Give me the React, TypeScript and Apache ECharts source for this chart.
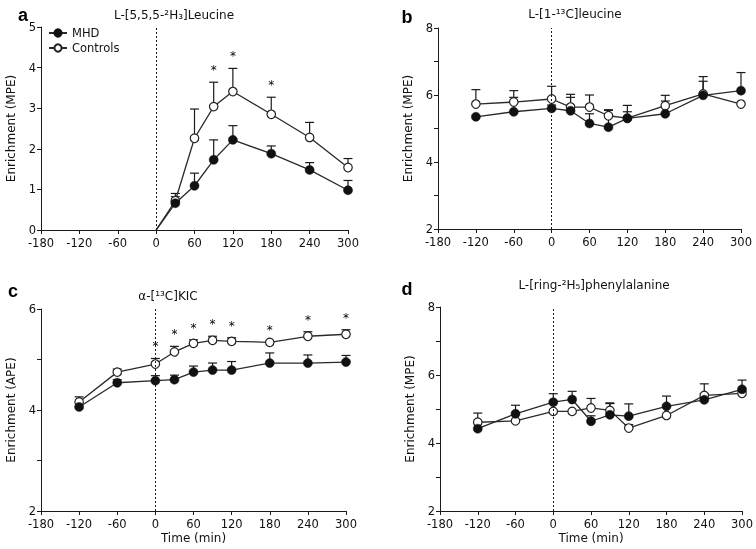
import React, { useEffect, useRef } from "react";
import * as echarts from "echarts";

// ---------- data ----------
const timesA = [0, 30, 60, 90, 120, 180, 240, 300];
const mhdA = [0, 0.66, 1.09, 1.73, 2.22, 1.88, 1.48, 0.98];
const mhdAErr = [null, 0.82, 1.4, 2.22, 2.57, 2.07, 1.66, 1.22];
const ctrlA = [0, 0.72, 2.26, 3.04, 3.41, 2.85, 2.28, 1.54];
const ctrlAErr = [null, 0.9, 2.98, 3.64, 3.98, 3.27, 2.65, 1.76];
const sigA = [90, 120, 180];

const timesBCD = [-120, -60, 0, 30, 60, 90, 120, 180, 240, 300];

const mhdB = [5.35, 5.5, 5.6, 5.53, 5.15, 5.04, 5.3, 5.44, 5.99, 6.13];
const mhdBErr = [null, 5.93, 5.7, 5.93, 5.44, 5.54, 5.5, 5.82, 6.41, 6.67];
const ctrlB = [5.73, 5.79, 5.88, 5.64, 5.64, 5.38, 5.31, 5.68, 6.03, 5.73];
const ctrlBErr = [6.16, 6.13, 6.26, 6.02, 6.0, 5.56, 5.69, 5.99, 6.55, null];
const sigB: number[] = [];

const mhdC = [4.06, 4.54, 4.58, 4.6, 4.75, 4.79, 4.79, 4.93, 4.93, 4.95];
const mhdCErr = [null, 4.6, 4.68, 4.69, 4.87, 4.93, 4.96, 5.13, 5.09, 5.08];
const ctrlC = [4.16, 4.75, 4.91, 5.15, 5.32, 5.38, 5.36, 5.34, 5.46, 5.5];
const ctrlCErr = [4.26, 4.81, 5.02, 5.26, 5.39, 5.46, 5.43, null, 5.55, 5.59];
const sigC = [0, 30, 60, 90, 120, 180, 240, 300];

const mhdD = [4.42, 4.86, 5.2, 5.28, 4.64, 4.83, 4.79, 5.08, 5.27, 5.58];
const mhdDErr = [null, 5.11, 5.45, 5.52, 4.8, 5.16, 5.15, 5.38, 5.45, 5.85];
const ctrlD = [4.61, 4.65, 4.93, 4.93, 5.03, 4.96, 4.44, 4.81, 5.4, 5.46];
const ctrlDErr = [4.88, null, null, null, 5.31, 5.18, 4.54, null, 5.74, 5.52];
const sigD: number[] = [];

const xTicks = { min: -180, max: 300, interval: 60 };

const panelTitles = [
  "L-[5,5,5-²H₃]Leucine",
  "L-[1-¹³C]leucine",
  "α-[¹³C]KIC",
  "L-[ring-²H₅]phenylalanine",
];
const panelLetters = ["a", "b", "c", "d"];
const yNames = ["Enrichment (MPE)", "Enrichment (MPE)", "Enrichment (APE)", "Enrichment (MPE)"];
const yRanges = [
  { min: 0, max: 5, interval: 1, minor: false },
  { min: 2, max: 8, interval: 2, minor: true },
  { min: 2, max: 6, interval: 2, minor: true },
  { min: 2, max: 8, interval: 2, minor: true },
];
const xName = ["", "", "Time (min)", "Time (min)"];

// ---------- layout / style ----------
const FONT = "DejaVu Sans";
const INK = "#111";
const grids = [
  { left: 41, top: 27, width: 307, height: 203 },
  { left: 438, top: 28, width: 303, height: 201 },
  { left: 41, top: 309, width: 305, height: 202 },
  { left: 440, top: 307, width: 308, height: 204 },
];
const titlePos = [
  [174, 15],
  [575, 14],
  [168, 296],
  [594, 285],
];
const letterPos = [
  [23, 15],
  [407, 17],
  [13, 291],
  [407, 289],
];

function errSeries(idx: number, times: number[], vals: number[], errs: (number | null)[]) {
  const data = times
    .map((t, i) => [t, vals[i], errs[i]])
    .filter((d) => d[2] !== null && d[2] !== undefined);
  return {
    type: "custom",
    xAxisIndex: idx,
    yAxisIndex: idx,
    z: 1,
    silent: true,
    itemStyle: { color: INK },
    data,
    renderItem: (_p: any, api: any) => {
      const x = api.value(0);
      const p0 = api.coord([x, api.value(1)]);
      const p1 = api.coord([x, api.value(2)]);
      const st = { stroke: "#1a1a1a", lineWidth: 1.2 };
      return {
        type: "group",
        children: [
          { type: "line", shape: { x1: p0[0], y1: p0[1], x2: p1[0], y2: p1[1] }, style: st },
          { type: "line", shape: { x1: p1[0] - 4.5, y1: p1[1], x2: p1[0] + 4.5, y2: p1[1] }, style: st },
        ],
      };
    },
  };
}

function starSeries(idx: number, times: number[], ctrl: number[], errs: (number | null)[], sig: number[]) {
  const data = sig.map((t) => {
    const i = times.indexOf(t);
    const top = errs[i] !== null && errs[i] !== undefined ? (errs[i] as number) : ctrl[i];
    return [t, top];
  });
  return {
    type: "custom",
    xAxisIndex: idx,
    yAxisIndex: idx,
    z: 4,
    silent: true,
    itemStyle: { color: INK },
    data,
    renderItem: (_p: any, api: any) => {
      const p = api.coord([api.value(0), api.value(1)]);
      return {
        type: "text",
        x: p[0],
        y: p[1] - 6,
        style: {
          text: "*",
          fill: "#000",
          fontFamily: FONT,
          fontSize: 12,
          align: "center",
          verticalAlign: "bottom",
          textAlign: "center",
          textVerticalAlign: "bottom",
        },
      };
    },
  };
}

function lineSeries(idx: number, name: string, times: number[], vals: number[], filled: boolean) {
  return {
    type: "line",
    name,
    xAxisIndex: idx,
    yAxisIndex: idx,
    z: filled ? 3 : 2,
    symbol: "circle",
    symbolSize: filled ? 9 : 8.5,
    showSymbol: true,
    silent: true,
    lineStyle: { color: "#2a2a2a", width: 1.3 },
    itemStyle: filled
      ? { color: "#111", borderColor: "#111", borderWidth: 0.5 }
      : { color: "#fff", borderColor: "#222", borderWidth: 1.2 },
    data: times.map((t, i) =>
      t === 0 && vals[i] === 0 ? { value: [t, vals[i]], symbol: "none" } : [t, vals[i]]
    ),
    markLine: filled
      ? {
          silent: true,
          symbol: "none",
          label: { show: false },
          lineStyle: { color: "#1a1a1a", type: [2, 2], width: 1 },
          data: [{ xAxis: 0 }],
        }
      : undefined,
  };
}

const panels = [
  { times: timesA, mhd: mhdA, mhdErr: mhdAErr, ctrl: ctrlA, ctrlErr: ctrlAErr, sig: sigA },
  { times: timesBCD, mhd: mhdB, mhdErr: mhdBErr, ctrl: ctrlB, ctrlErr: ctrlBErr, sig: sigB },
  { times: timesBCD, mhd: mhdC, mhdErr: mhdCErr, ctrl: ctrlC, ctrlErr: ctrlCErr, sig: sigC },
  { times: timesBCD, mhd: mhdD, mhdErr: mhdDErr, ctrl: ctrlD, ctrlErr: ctrlDErr, sig: sigD },
];

function buildOption() {
  const axisLine = { show: true, onZero: false, lineStyle: { color: "#1a1a1a", width: 1 } };
  const axisTick = { show: true, length: 4, lineStyle: { color: "#1a1a1a", width: 1 } };
  const labelStyle = { color: INK, fontFamily: FONT, fontSize: 11.5 };
  const xAxis = grids.map((_, i) => ({
    type: "value",
    gridIndex: i,
    ...xTicks,
    axisLine,
    axisTick,
    splitLine: { show: false },
    axisLabel: { ...labelStyle, lineHeight: 11, margin: 7 },
    name: xName[i],
    nameLocation: "middle",
    nameGap: 21,
    nameTextStyle: { color: INK, fontFamily: FONT, fontSize: 12 },
  }));
  const yAxis = grids.map((_, i) => ({
    type: "value",
    gridIndex: i,
    min: yRanges[i].min,
    max: yRanges[i].max,
    interval: yRanges[i].interval,
    axisLine,
    axisTick,
    minorTick: { show: yRanges[i].minor, splitNumber: 2, length: 4, lineStyle: { color: "#1a1a1a", width: 1 } },
    splitLine: { show: false },
    axisLabel: { ...labelStyle, lineHeight: 9, margin: 5 },
    name: yNames[i],
    nameLocation: "middle",
    nameGap: 24,
    nameTextStyle: { color: INK, fontFamily: FONT, fontSize: 12 },
  }));
  const series: any[] = [];
  panels.forEach((p, i) => {
    series.push(errSeries(i, p.times, p.ctrl, p.ctrlErr));
    series.push(errSeries(i, p.times, p.mhd, p.mhdErr));
    series.push(lineSeries(i, "Controls", p.times, p.ctrl, false));
    series.push(lineSeries(i, "MHD", p.times, p.mhd, true));
    if (p.sig.length) series.push(starSeries(i, p.times, p.ctrl, p.ctrlErr, p.sig));
  });
  const graphic: any[] = [];
  panelTitles.forEach((t, i) => {
    graphic.push({
      type: "text",
      x: titlePos[i][0],
      y: titlePos[i][1],
      style: {
        text: t,
        fill: INK,
        fontFamily: FONT,
        fontSize: 12,
        align: "center",
        verticalAlign: "middle",
        textAlign: "center",
        textVerticalAlign: "middle",
      },
    });
    graphic.push({
      type: "text",
      x: letterPos[i][0],
      y: letterPos[i][1],
      style: {
        text: panelLetters[i],
        fill: "#000",
        fontFamily: "Liberation Sans",
        fontWeight: "bold",
        fontSize: 18,
        lineHeight: 14,
        align: "center",
        verticalAlign: "middle",
        textAlign: "center",
        textVerticalAlign: "middle",
      },
    });
  });
  return {
    animation: false,
    grid: grids.map((g) => ({ ...g, containLabel: false })),
    xAxis,
    yAxis,
    legend: {
      data: ["MHD", "Controls"],
      orient: "vertical",
      left: 48,
      top: 27,
      padding: 0,
      itemWidth: 18,
      itemHeight: 9,
      itemGap: 3,
      selectedMode: false,
      textStyle: { color: INK, fontFamily: FONT, fontSize: 11.5 },
    },
    graphic,
    series,
  };
}

export default function App() {
  const ref = useRef<HTMLDivElement>(null);
  useEffect(() => {
    document.body.style.margin = "0";
    document.body.style.background = "#fff";
    if (!ref.current) return;
    const chart = echarts.init(ref.current, undefined, { renderer: "svg" });
    chart.setOption(buildOption() as any);
    return () => chart.dispose();
  }, []);
  return (
    <div
      ref={ref}
      style={{ width: 756, height: 549, willChange: "transform", transform: "translateZ(0)" }}
    />
  );
}
